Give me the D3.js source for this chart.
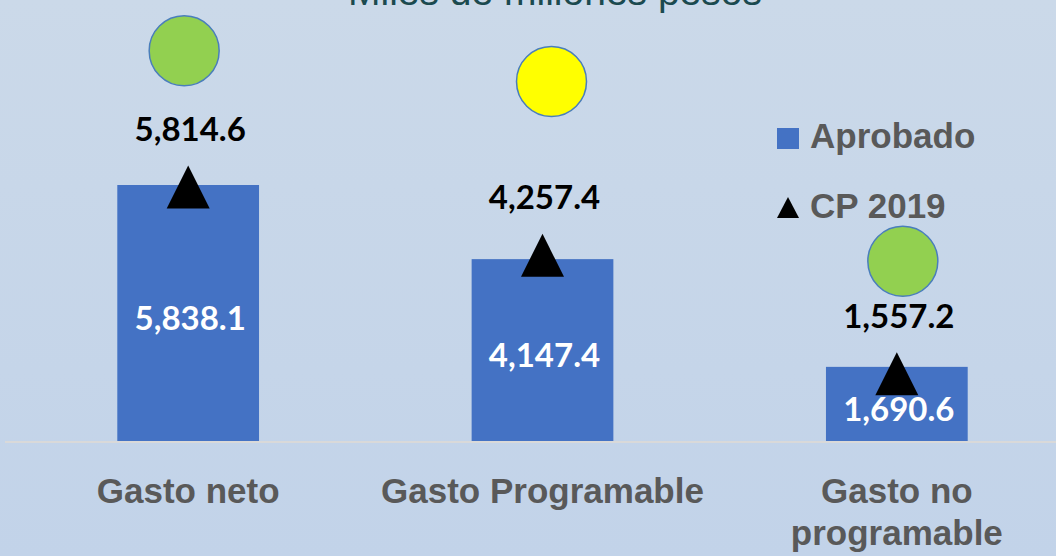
<!DOCTYPE html>
<html>
<head>
<meta charset="utf-8">
<script src="https://cdn.jsdelivr.net/npm/d3@7"></script>
<style>
  html, body { margin: 0; padding: 0; overflow: hidden; }
  svg { display: block; }
</style>
</head>
<body>
<svg id="chart" width="1056" height="556"></svg>
<script>
// ---- data ----
const categories = ["Gasto neto", "Gasto Programable", "Gasto no programable"];
const aprobado = [5838.1, 4147.4, 1690.6];
const cp2019 = [5814.6, 4257.4, 1557.2];
const semaforoColor = ["#92d050", "#ffff00", "#92d050"];
const semaforoNivel = [8900, 8200, 4100]; // indicator placement, in value units
const seriesNames = ["Aprobado", "CP 2019"];
const titleText = "Miles de millones pesos";

// ---- layout ----
const W = 1056, H = 556;
const svg = d3.select("#chart");

const defs = svg.append("defs");
const grad = defs.append("linearGradient").attr("id", "bg").attr("x1", 0).attr("y1", 0).attr("x2", 0).attr("y2", 1);
grad.append("stop").attr("offset", "0%").attr("stop-color", "#cbd9e9");
grad.append("stop").attr("offset", "100%").attr("stop-color", "#c2d3e9");
svg.append("rect").attr("width", W).attr("height", H).attr("fill", "url(#bg)");

const x = d3.scaleBand().domain(categories).range([11, 1074]).paddingInner(0.6).paddingOuter(0.3);
const y = d3.scaleLinear().domain([0, 10000]).range([441, 2.5]);

// title (partially cut off at top)
svg.append("text")
  .attr("x", 555).attr("y", 5)
  .attr("text-anchor", "middle")
  .attr("font-family", "Liberation Sans, Arial, sans-serif")
  .attr("font-size", 39)
  .attr("fill", "#1b4a4f")
  .text(titleText);

// bars
svg.selectAll("rect.bar").data(aprobado).join("rect")
  .attr("class", "bar")
  .attr("x", (d, i) => x(categories[i]))
  .attr("y", d => y(d))
  .attr("width", x.bandwidth())
  .attr("height", d => y(0) - y(d))
  .attr("fill", "#4472c4");

// axis line
const xAxis = d3.axisBottom(x).tickSize(0).tickFormat("");
const axisG = svg.append("g").attr("transform", `translate(0,${y(0) + 1})`).call(xAxis);
axisG.select(".domain").attr("d", "M5,0H1056").attr("stroke", "#d9d9d9").attr("stroke-width", 2);

const fmt = d3.format(",.1f");
const cx = i => x(categories[i]) + x.bandwidth() / 2;

// bar value labels
svg.selectAll("text.barlab").data(aprobado).join("text")
  .attr("class", "barlab")
  .attr("x", (d, i) => cx(i) + 2)
  .attr("y", d => (y(d) + y(0)) / 2 + 17)
  .attr("text-anchor", "middle")
  .attr("font-family", "Lato, sans-serif")
  .attr("font-weight", "bold")
  .attr("font-size", 33)
  .attr("fill", "#ffffff")
  .text(d => fmt(d));

// triangles
const tri = (px, py, w, h) => `M${px},${py - h / 2}L${px + w / 2},${py + h / 2}L${px - w / 2},${py + h / 2}Z`;
svg.selectAll("path.tri").data(cp2019).join("path")
  .attr("class", "tri")
  .attr("d", (d, i) => tri(cx(i), y(d) + 1, 43, 43))
  .attr("fill", "#000000");

// CP labels
svg.selectAll("text.cplab").data(cp2019).join("text")
  .attr("class", "cplab")
  .attr("x", (d, i) => cx(i) + 2)
  .attr("y", d => y(d) - 45)
  .attr("text-anchor", "middle")
  .attr("font-family", "Lato, sans-serif")
  .attr("font-weight", "bold")
  .attr("font-size", 33)
  .attr("fill", "#000000")
  .text(d => fmt(d));

// indicator circles
svg.selectAll("circle.sem").data(semaforoNivel).join("circle")
  .attr("class", "sem")
  .attr("cx", (d, i) => cx(i) + (i === 0 ? -4 : i === 1 ? 9 : 6))
  .attr("cy", d => y(d))
  .attr("r", 35)
  .attr("fill", (d, i) => semaforoColor[i])
  .attr("stroke", "#4a7ebb")
  .attr("stroke-width", 1.5);

// category labels with wrapping
const catG = svg.append("g");
categories.forEach((c, i) => {
  const t = catG.append("text")
    .attr("x", cx(i))
    .attr("y", 503)
    .attr("text-anchor", "middle")
    .attr("font-family", "Liberation Sans, Arial, sans-serif")
    .attr("font-weight", "bold")
    .attr("font-size", 35)
    .attr("fill", "#595959");
  const words = c.split(" ");
  let line = [], lineNo = 0;
  let tspan = t.append("tspan").attr("x", cx(i)).attr("dy", 0);
  words.forEach(w => {
    line.push(w);
    tspan.text(line.join(" "));
    if (tspan.node().getComputedTextLength() > 345 && line.length > 1) {
      line.pop();
      tspan.text(line.join(" "));
      line = [w];
      lineNo++;
      tspan = t.append("tspan").attr("x", cx(i)).attr("dy", 42).text(w);
    }
  });
});

// legend
const lg = svg.append("g");
lg.append("rect").attr("x", 777).attr("y", 128).attr("width", 22).attr("height", 21).attr("fill", "#4472c4");
lg.append("path").attr("d", tri(788, 207.5, 22, 21)).attr("fill", "#000000");
lg.selectAll("text").data(seriesNames).join("text")
  .attr("x", 810)
  .attr("y", (d, i) => 148 + i * 70)
  .attr("font-family", "Liberation Sans, Arial, sans-serif")
  .attr("font-weight", "bold")
  .attr("font-size", 35)
  .attr("fill", "#595959")
  .text(d => d);
</script>
</body>
</html>
